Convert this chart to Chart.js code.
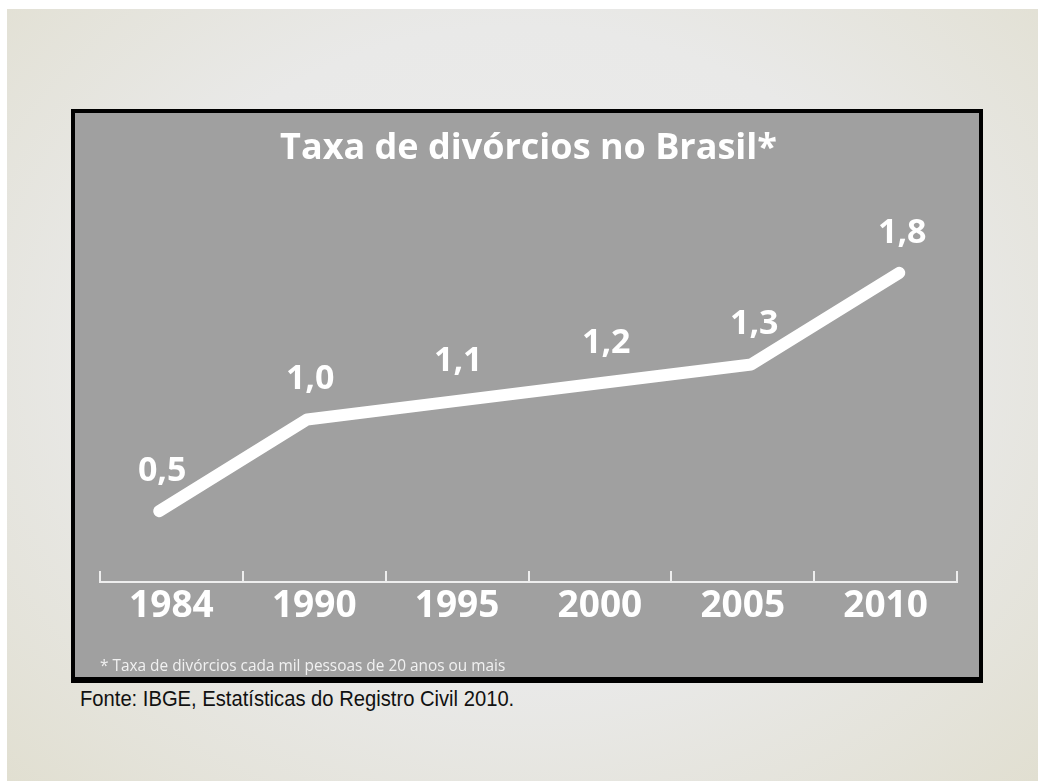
<!DOCTYPE html>
<html lang="pt-BR">
<head>
<meta charset="utf-8">
<title>Taxa de divórcios no Brasil</title>
<script src="https://cdn.jsdelivr.net/npm/chart.js@4.4.1/dist/chart.umd.min.js"></script>
<style>
  html, body { margin: 0; padding: 0; background: #fff; }
  body { width: 1038px; height: 783px; position: relative; overflow: hidden; }
  .slide {
    position: absolute; left: 7px; top: 9px; right: 0; bottom: 2px;
    background: radial-gradient(ellipse at 50% 45%, #ececec 0%, #e9e9e8 55%, #e1dfd1 100%);
  }
  .frame {
    position: absolute; left: 71px; top: 109px; width: 904px; height: 564px;
    border: 4px solid #000; border-bottom-width: 6px; background: #a0a0a0;
  }
  .frame canvas { display: block; }
  .source {
    position: absolute; left: 80px; top: 686px;
    font: 20.2px "Liberation Sans", Arial, sans-serif; color: #111;
    transform: scaleY(1.1); transform-origin: left top;
  }
</style>
</head>
<body>
<div class="slide"></div>
<div class="frame"><canvas id="chart" width="904" height="564"></canvas></div>
<div class="source">Fonte: IBGE, Estatísticas do Registro Civil 2010.</div>

<script>
// divórcios por mil pessoas de 20 anos ou mais
const years = ['1984', '1990', '1995', '2000', '2005', '2010'];
const rates = [0.5, 1.0, 1.1, 1.2, 1.3, 1.8];

const FONT = 'Open Sans';

// value written above each point, Brazilian decimal comma
const valueLabels = {
  id: 'valueLabels',
  afterDatasetsDraw(chart) {
    const ctx = chart.ctx;
    const meta = chart.getDatasetMeta(0);
    ctx.save();
    ctx.font = 'bold 34px "' + FONT + '"';
    ctx.fillStyle = '#ffffff';
    ctx.textAlign = 'center';
    ctx.textBaseline = 'alphabetic';
    meta.data.forEach((pt, i) => {
      ctx.fillText(rates[i].toFixed(1).replace('.', ','), pt.x + 3, pt.y - 30);
    });
    ctx.restore();
  }
};

function drawChart() {
  new Chart(document.getElementById('chart'), {
    type: 'line',
    data: {
      labels: years,
      datasets: [{
        data: years.map((y, i) => ({ x: i, y: rates[i] })),
        xAxisID: 'xp',
        borderColor: '#ffffff',
        borderWidth: 12,
        borderCapStyle: 'round',
        borderJoinStyle: 'round',
        pointRadius: 0,
        tension: 0
      }]
    },
    options: {
      responsive: false,
      animation: false,
      layout: { padding: { left: 25, right: 22, top: 0, bottom: 0 } },
      plugins: {
        legend: { display: false },
        tooltip: { enabled: false },
        title: {
          display: true,
          text: 'Taxa de divórcios no Brasil*',
          color: '#ffffff',
          font: { family: FONT, size: 36, weight: 'bold', lineHeight: 1.2 },
          padding: { top: 14, bottom: 10 }
        },
        subtitle: {
          display: true,
          position: 'bottom',
          align: 'start',
          text: '* Taxa de divórcios cada mil pessoas de 20 anos ou mais',
          color: 'rgba(255,255,255,0.85)',
          font: { family: FONT, size: 15.4, lineHeight: 1.2 },
          padding: { top: 14, bottom: 1.6 }
        }
      },
      scales: {
        x: {
          type: 'category',
          offset: true,
          grid: {
            display: true,
            offset: true,          // tick marks sit between the years
            drawOnChartArea: false,
            tickLength: -11,       // and point up from the axis line
            color: '#eeeeee',
            lineWidth: 2
          },
          border: { display: true, color: '#eeeeee', width: 2 },
          ticks: {
            color: '#ffffff',
            font: { family: FONT, size: 37, weight: 'bold' },
            padding: 13.8,
            maxRotation: 0,
            autoSkip: false
          }
        },
        // the line itself runs on its own, slightly wider, index axis
        xp: { type: 'linear', display: false, min: -0.4, max: 5.39 },
        y: { display: false, min: 0.114, max: 2.305 }
      }
    },
    plugins: [valueLabels]
  });
}

Promise.all([
  document.fonts.load('bold 36px "' + FONT + '"'),
  document.fonts.load('15px "' + FONT + '"')
]).then(drawChart, drawChart);
</script>
</body>
</html>
